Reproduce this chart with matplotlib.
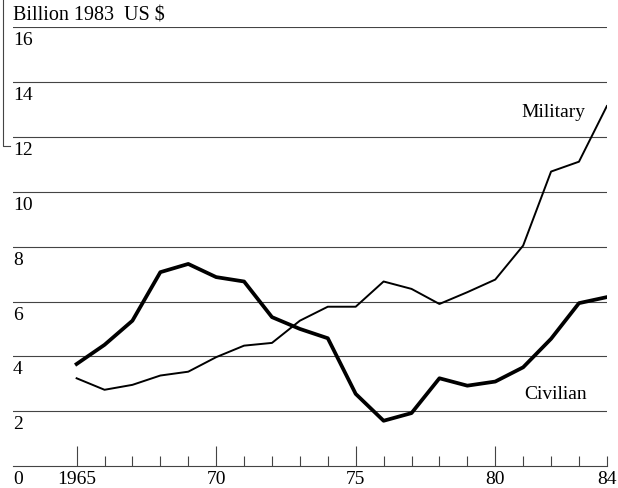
"""
Military and civilian spending, billion 1983 US $, 1965-84
"""
import matplotlib
matplotlib.use("Agg")
import matplotlib.pyplot as plt
from matplotlib.lines import Line2D
from matplotlib.transforms import blended_transform_factory

years = list(range(1965, 1985))
civilian = [3.72, 4.42, 5.30, 7.07, 7.37, 6.89, 6.73, 5.43, 5.00, 4.66,
            2.63, 1.65, 1.93, 3.20, 2.93, 3.08, 3.60, 4.64, 5.94, 6.16]
military = [3.20, 2.78, 2.96, 3.30, 3.44, 3.97, 4.39, 4.49, 5.30, 5.81,
            5.81, 6.73, 6.46, 5.91, 6.34, 6.80, 8.04, 10.74, 11.10, 13.13]
y_levels = [0, 2, 4, 6, 8, 10, 12, 14, 16]
major_years = [1965, 1970, 1975, 1980, 1984]
major_labels = ["1965", "70", "75", "80", "84"]

plt.rcParams["font.family"] = ["Liberation Serif", "DejaVu Serif"]
FS = 14

fig = plt.figure(figsize=(6.18, 4.89), dpi=100)
ax = fig.add_axes([0.021, 0.045, 0.961, 0.897])
ax.set_xlim(1962.72, 1984.0)
ax.set_ylim(0, 16)

# horizontal rules
for lev in y_levels[1:]:
    ax.axhline(lev, color="#444444", lw=0.8, zorder=1)

ax.plot(years, civilian, color="black", lw=2.7, zorder=3)
ax.plot(years, military, color="black", lw=1.4, zorder=3)

for s in ["top", "left", "right"]:
    ax.spines[s].set_visible(False)
ax.spines["bottom"].set_color("#444444")
ax.spines["bottom"].set_linewidth(0.8)

ax.set_yticks([])
ax.set_xticks(major_years)
ax.set_xticklabels(major_labels, fontsize=FS)
ax.set_xticks([y for y in years if y not in major_years], minor=True)
ax.tick_params(axis="x", which="major", direction="in", length=14.4, width=0.8,
               color="#444444", pad=3)
ax.tick_params(axis="x", which="minor", direction="in", length=7.2, width=0.8,
               color="#444444")
ax.xaxis.get_major_ticks()[-1].tick1line.set_markersize(7.2)

# value labels sit just under each rule at the left edge
trans = blended_transform_factory(ax.transAxes, ax.transData)
for lev in y_levels:
    ax.text(0.0, lev - 0.15, str(lev), transform=trans, ha="left", va="top",
            fontsize=FS)
ax.text(0.0, 16.1, "Billion 1983  US $", transform=trans, ha="left",
        va="bottom", fontsize=FS + 0.5)

ax.text(1983.22, 12.92, "Military", ha="right", va="center", fontsize=FS)
ax.text(1983.3, 2.63, "Civilian", ha="right", va="center", fontsize=FS)

# bracket at the left edge of the page
fig.add_artist(Line2D([3 / 618, 3 / 618, 10 / 618], [1.0, 1 - 147 / 489, 1 - 147 / 489],
                      transform=fig.transFigure, color="#444444", lw=0.8))

fig.savefig("out.png", dpi=100)
